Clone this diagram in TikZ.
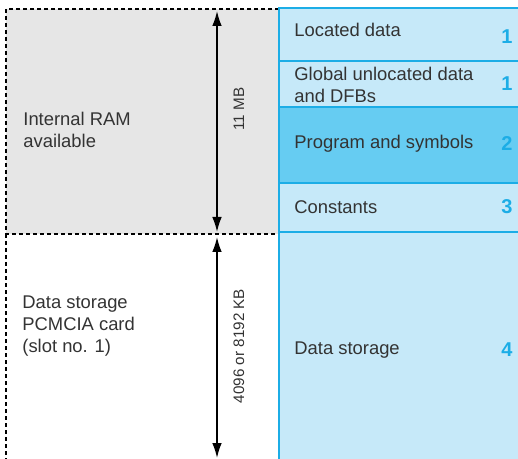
\documentclass[tikz,border=0pt]{standalone}
\usepackage{fontspec}
\setmainfont{Liberation Sans}
\usepackage{tikz}
\usetikzlibrary{arrows.meta}
\definecolor{ramgrey}{HTML}{E6E6E6}
\definecolor{memblue}{HTML}{C6E9F9}
\definecolor{progblue}{HTML}{66CCF2}
\definecolor{edgeblue}{HTML}{1CADE6}
\definecolor{txtgrey}{HTML}{333333}
\tikzset{
  zone/.style={draw=black,dash pattern=on 2pt off 1.5pt,line width=0.7pt},
  memrow/.style={draw=edgeblue,fill=memblue,line width=0.7pt},
  txt/.style={right,inner sep=0pt,text=txtgrey,align=left,font=\fontsize{9.2}{10.8}\selectfont},
  nr/.style={inner sep=0pt,text=edgeblue,font=\bfseries\fontsize{10}{12}\selectfont},
  sizetxt/.style={rotate=90,inner sep=0pt,text=txtgrey,font=\fontsize{7.6}{9}\selectfont},
  sizearrow/.style={{Latex[length=7.5pt,width=4.8pt]}-{Latex[length=7.5pt,width=4.8pt]},line width=0.75pt}
}
\begin{document}
\begin{tikzpicture}[x=0.5pt,y=-0.5pt]
\useasboundingbox (0,0) rectangle (518,459);
% memory zones on the left
\fill[ramgrey] (6,9) rectangle (279,234);
\draw[zone] (279,9) -- (6,9) -- (6,234) -- (279,234);
\draw[zone] (6,234) -- (6,462);
\node[txt] (ram) at (23,130) {Internal RAM\\available};
\node[txt] (card) at (22,326) {Data storage\\PCMCIA card\\(slot no. 1)};
% sizes
\coordinate (ramtop) at (217,11);
\coordinate (rambot) at (217,232);
\coordinate (cardtop) at (217,237);
\coordinate (cardbot) at (217,458);
\draw[sizearrow] (ramtop) -- (rambot);
\draw[sizearrow] (cardtop) -- (cardbot);
\node[sizetxt] (ramsize) at (239,109) {11 MB};
\node[sizetxt] (cardsize) at (239,346) {4096 or 8192 KB};
% application memory
\draw[memrow] (279,8) rectangle (520,61);
\draw[memrow] (279,61) rectangle (520,107);
\draw[memrow,fill=progblue] (279,107) rectangle (520,183);
\draw[memrow] (279,183) rectangle (520,232);
\draw[memrow] (279,232) rectangle (520,462);
\node[txt] (located) at (294,30) {Located data};
\node[txt] (global) at (294,85) {Global unlocated data\\and DFBs};
\node[txt] (program) at (294,144) {Program and symbols};
\node[txt] (const) at (294,207) {Constants};
\node[txt] (storage) at (294,350) {Data storage};
\node[nr] (n1) at (507,37) {1};
\node[nr] (n1b) at (507,84) {1};
\node[nr] (n2) at (507,144) {2};
\node[nr] (n3) at (507,207) {3};
\node[nr] (n4) at (507,350) {4};
\end{tikzpicture}
\end{document}
